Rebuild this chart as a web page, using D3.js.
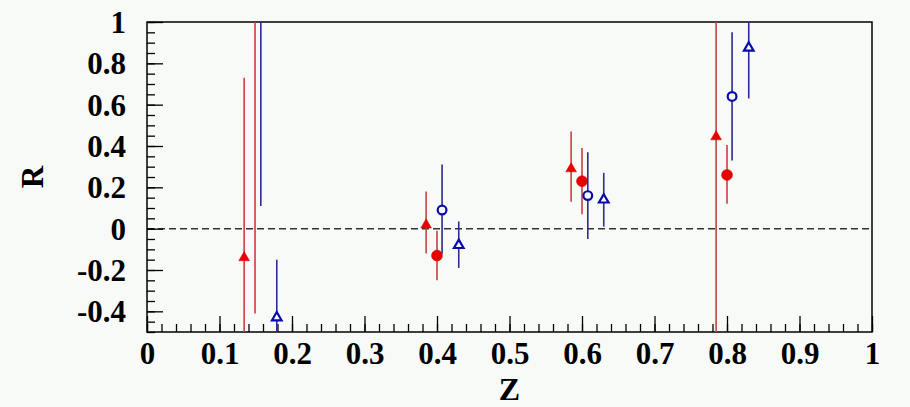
<!DOCTYPE html>
<html>
<head>
<meta charset="utf-8">
<script src="https://cdn.jsdelivr.net/npm/d3@7/dist/d3.min.js"></script>
<style>
  html, body { margin: 0; padding: 0; background: #f8faf8; }
  svg { display: block; }
  text { font-family: "Liberation Serif", "Times New Roman", serif; font-weight: bold; fill: #000; }
</style>
</head>
<body>
<svg id="chart" width="910" height="407"></svg>
<script>
// Axis ticks
const xTicks = [0, 0.1, 0.2, 0.3, 0.4, 0.5, 0.6, 0.7, 0.8, 0.9, 1];
const xTickLabels = ["0", "0.1", "0.2", "0.3", "0.4", "0.5", "0.6", "0.7", "0.8", "0.9", "1"];
const yTicks = [-0.4, -0.2, 0, 0.2, 0.4, 0.6, 0.8, 1];
const yTickLabels = ["-0.4", "-0.2", "0", "0.2", "0.4", "0.6", "0.8", "1"];

// Series: filled red triangles
const zRedTri = [0.134, 0.385, 0.585, 0.785];
const rRedTri = [-0.14, 0.018, 0.29, 0.445];
const rRedTriLo = [-0.9, -0.12, 0.13, -1.5];
const rRedTriHi = [0.73, 0.18, 0.47, 2.5];

// Series: filled red circles
const zRedCirc = [0.149, 0.400, 0.600, 0.800];
const rRedCirc = [1.3, -0.13, 0.23, 0.26];
const rRedCircLo = [-0.41, -0.25, 0.07, 0.12];
const rRedCircHi = [3.0, -0.01, 0.39, 0.405];

// Series: open blue circles
const zBlueCirc = [0.157, 0.407, 0.608, 0.807];
const rBlueCirc = [1.4, 0.09, 0.16, 0.64];
const rBlueCircLo = [0.11, -0.12, -0.05, 0.33];
const rBlueCircHi = [2.7, 0.31, 0.37, 0.95];

// Series: open blue triangles
const zBlueTri = [0.179, 0.430, 0.630, 0.830];
const rBlueTri = [-0.43, -0.08, 0.14, 0.875];
const rBlueTriLo = [-0.6, -0.19, 0.01, 0.63];
const rBlueTriHi = [-0.15, 0.035, 0.27, 1.12];

const bg = "#f8faf8";
const svg = d3.select("#chart");
const L = 147, R = 872, T = 22, B = 332;

const x = d3.scaleLinear().domain([0, 1]).range([L, R]);
const y = d3.scaleLinear().domain([-0.5, 1]).range([B, T]);

svg.append("rect").attr("width", 910).attr("height", 407).attr("fill", bg);

svg.append("defs").append("clipPath").attr("id", "plot")
  .append("rect").attr("x", L).attr("y", T).attr("width", R - L).attr("height", B - T);

// zero reference line
svg.append("line")
  .attr("x1", x(0)).attr("x2", x(1)).attr("y1", y(0)).attr("y2", y(0))
  .attr("stroke", "#333").attr("stroke-width", 1.5).attr("stroke-dasharray", "7,4");

// minor and major ticks
const xMinor = d3.range(0, 1.0001, 0.02);
const yMinor = d3.range(-0.5, 1.0001, 0.05);

const xAxisMinor = d3.axisBottom(x).tickValues(xMinor).tickSize(-8).tickFormat("");
const xAxisMajor = d3.axisBottom(x).tickValues(xTicks).tickSize(-16)
  .tickFormat((d, i) => xTickLabels[i]);
const yAxisMinor = d3.axisLeft(y).tickValues(yMinor).tickSize(-8).tickFormat("");
const yAxisMajor = d3.axisLeft(y).tickValues(yTicks).tickSize(-16)
  .tickFormat((d, i) => yTickLabels[i]);

function styleAxis(g) {
  g.select(".domain").remove();
  g.selectAll("line").attr("stroke", "#000").attr("stroke-width", 1.3);
  g.selectAll("text").attr("font-size", 31).attr("fill", "#000")
    .style("font-family", '"Liberation Serif", serif').style("font-weight", "bold");
}

svg.append("g").attr("transform", `translate(0,${B})`).call(xAxisMinor).call(styleAxis);
svg.append("g").attr("transform", `translate(0,${B})`).call(xAxisMajor).call(styleAxis)
  .selectAll("text").attr("y", 10).attr("dy", "0.71em");
svg.append("g").attr("transform", `translate(${L},0)`).call(yAxisMinor).call(styleAxis);
svg.append("g").attr("transform", `translate(${L},0)`).call(yAxisMajor).call(styleAxis)
  .selectAll("text").attr("x", -21).attr("dy", "0.34em");

// frame
svg.append("rect").attr("x", L).attr("y", T).attr("width", R - L).attr("height", B - T)
  .attr("fill", "none").attr("stroke", "#000").attr("stroke-width", 1.5);

// axis titles
svg.append("text").attr("x", x(0.5)).attr("y", 400).attr("text-anchor", "middle")
  .attr("font-size", 32).text("Z");
svg.append("text").attr("transform", `translate(43,${(T + B) / 2}) rotate(-90)`)
  .attr("text-anchor", "middle").attr("font-size", 31).text("R");

const plot = svg.append("g").attr("clip-path", "url(#plot)");

function series(zs, rs, lo, hi, cfg) {
  const pts = zs.map((z, i) => ({ z, r: rs[i], lo: lo[i], hi: hi[i] }));
  plot.append("g").selectAll("line").data(pts).join("line")
    .attr("x1", d => x(d.z)).attr("x2", d => x(d.z))
    .attr("y1", d => y(d.lo)).attr("y2", d => y(d.hi))
    .attr("stroke", cfg.bar).attr("stroke-width", 1.6);
  const sym = d3.symbol().type(cfg.shape).size(cfg.size);
  plot.append("g").selectAll("path").data(pts).join("path")
    .attr("transform", d => `translate(${x(d.z)},${y(d.r)})`)
    .attr("d", sym)
    .attr("fill", cfg.fill).attr("stroke", cfg.stroke).attr("stroke-width", cfg.sw);
}

series(zRedTri, rRedTri, rRedTriLo, rRedTriHi,
  { bar: "#c84040", shape: d3.symbolTriangle, size: 50, fill: "#e80000", stroke: "#e80000", sw: 0.5 });
series(zRedCirc, rRedCirc, rRedCircLo, rRedCircHi,
  { bar: "#c84040", shape: d3.symbolCircle, size: 95, fill: "#e80000", stroke: "#e80000", sw: 0.5 });
series(zBlueCirc, rBlueCirc, rBlueCircLo, rBlueCircHi,
  { bar: "#2a2a9a", shape: d3.symbolCircle, size: 60, fill: bg, stroke: "#0a0aa8", sw: 2.2 });
series(zBlueTri, rBlueTri, rBlueTriLo, rBlueTriHi,
  { bar: "#2a2a9a", shape: d3.symbolTriangle, size: 40, fill: bg, stroke: "#0a0aa8", sw: 2.2 });
</script>
</body>
</html>
